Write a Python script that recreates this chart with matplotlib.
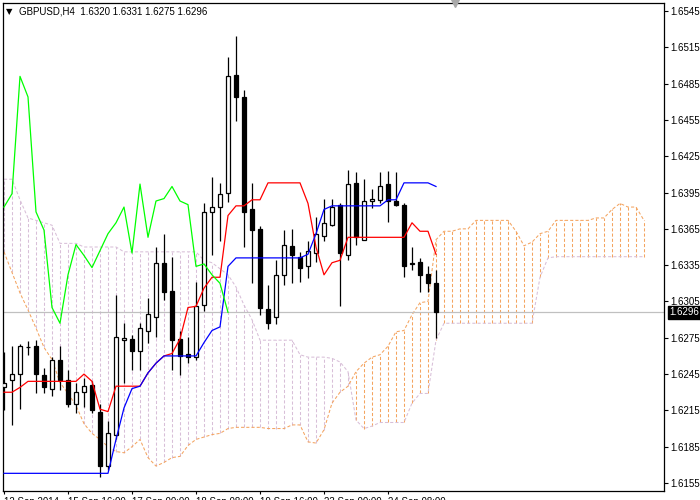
import numpy as np
import matplotlib.pyplot as plt
from matplotlib.transforms import blended_transform_factory

plt.rcParams['font.family'] = ['Liberation Sans', 'DejaVu Sans']

# Velas H4 (abertura, maxima, minima, fechamento)
abert = [1.6234, 1.6240, 1.6245, 1.6267, 1.6268, 1.6244, 1.6233, 1.6257, 1.6240, 1.6220,
         1.6230, 1.6236, 1.6214, 1.6169, 1.6195, 1.6273, 1.6274, 1.6264, 1.6281, 1.6292,
         1.6337, 1.6314, 1.6274, 1.6262, 1.6259, 1.6302, 1.6379, 1.6383, 1.6395, 1.6492,
         1.6474, 1.6381, 1.6365, 1.6299, 1.6292, 1.6327, 1.6351, 1.6342, 1.6334, 1.6345,
         1.6359, 1.6368, 1.6385, 1.6343, 1.6403, 1.6356, 1.6388, 1.6389, 1.6402, 1.6388,
         1.6385, 1.6337, 1.6338, 1.6328, 1.6320]
maxi = [1.6263, 1.6268, 1.6270, 1.6272, 1.6273, 1.6250, 1.6259, 1.6268, 1.6248, 1.6238,
        1.6242, 1.6239, 1.6220, 1.6206, 1.6310, 1.6287, 1.6277, 1.6287, 1.6308, 1.6350,
        1.6361, 1.6342, 1.6281, 1.6276, 1.6321, 1.6386, 1.6408, 1.6403, 1.6507, 1.6524,
        1.6480, 1.6403, 1.6367, 1.6319, 1.6339, 1.6364, 1.6365, 1.6346, 1.6355, 1.6375,
        1.6390, 1.6390, 1.6386, 1.6414, 1.6412, 1.6406, 1.6398, 1.6412, 1.6413, 1.6412,
        1.6386, 1.6350, 1.6341, 1.6334, 1.6331]
mini = [1.6215, 1.6203, 1.6216, 1.6261, 1.6229, 1.6229, 1.6227, 1.6232, 1.6218, 1.6213,
        1.6218, 1.6213, 1.6160, 1.6166, 1.6191, 1.6238, 1.6248, 1.6248, 1.6271, 1.6276,
        1.6306, 1.6248, 1.6244, 1.6254, 1.6257, 1.6297, 1.6343, 1.6355, 1.6387, 1.6454,
        1.6350, 1.6320, 1.6294, 1.6282, 1.6286, 1.6319, 1.6320, 1.6321, 1.6324, 1.6338,
        1.6355, 1.6367, 1.6301, 1.6339, 1.6352, 1.6356, 1.6382, 1.6386, 1.6371, 1.6384,
        1.6325, 1.6331, 1.6313, 1.6313, 1.6275]
fech = [1.6238, 1.6245, 1.6268, 1.6267, 1.6245, 1.6234, 1.6257, 1.6240, 1.6220, 1.6230,
        1.6235, 1.6215, 1.6169, 1.6196, 1.6276, 1.6275, 1.6264, 1.6283, 1.6295, 1.6337,
        1.6313, 1.6273, 1.6260, 1.6259, 1.6301, 1.6379, 1.6383, 1.6394, 1.6491, 1.6474,
        1.6379, 1.6364, 1.6300, 1.6287, 1.6327, 1.6352, 1.6343, 1.6333, 1.6347, 1.6361,
        1.6370, 1.6383, 1.6345, 1.6402, 1.6358, 1.6388, 1.6390, 1.6400, 1.6388, 1.6385,
        1.6334, 1.6336, 1.6327, 1.6320, 1.6296]

# Ichimoku: Tenkan-sen e Kijun-sen
tenkan = [1.6230, 1.6230, 1.6234, 1.6239, 1.6239, 1.6239, 1.6239, 1.6239, 1.6239, 1.6239,
          1.6245, 1.6239, 1.6216, 1.6214, 1.6235, 1.6235, 1.6235, 1.6235, 1.6246, 1.6254,
          1.6260, 1.6262, 1.6274, 1.6300, 1.6301, 1.6316, 1.6325, 1.6325, 1.6376, 1.6384,
          1.6384, 1.6389, 1.6389, 1.6403, 1.6403, 1.6403, 1.6403, 1.6403, 1.6386, 1.6350,
          1.6327, 1.6337, 1.6339, 1.6358, 1.6358, 1.6358, 1.6358, 1.6358, 1.6358, 1.6358,
          1.6358, 1.6370, 1.6363, 1.6363, 1.6344]
kijun = [1.6163, 1.6163, 1.6163, 1.6163, 1.6163, 1.6163, 1.6163, 1.6163, 1.6163, 1.6163,
         1.6163, 1.6163, 1.6163, 1.6163, 1.6191, 1.6217, 1.6233, 1.6235, 1.6246, 1.6254,
         1.6260, 1.6260, 1.6260, 1.6260, 1.6260, 1.6271, 1.6281, 1.6284, 1.6334, 1.6341,
         1.6341, 1.6341, 1.6341, 1.6341, 1.6341, 1.6341, 1.6341, 1.6341, 1.6344, 1.6361,
         1.6381, 1.6384, 1.6384, 1.6384, 1.6384, 1.6384, 1.6384, 1.6384, 1.6389, 1.6389,
         1.6403, 1.6403, 1.6403, 1.6403, 1.6400]

# Nuvem (Senkou Span A e B, deslocadas 26 barras)
span_a = [1.6346, 1.6329, 1.6312, 1.6298, 1.6283, 1.6267, 1.6257, 1.6238, 1.6229, 1.6219,
          1.6204, 1.6196, 1.6191, 1.6185, 1.6181, 1.6180, 1.6185, 1.6191, 1.6176, 1.6169,
          1.6172, 1.6176, 1.6177, 1.6186, 1.6191, 1.6193, 1.6195, 1.6196, 1.6200, 1.6201,
          1.6201, 1.6201, 1.6201, 1.6200, 1.6200, 1.6200, 1.6203, 1.6203, 1.6189, 1.6188,
          1.6199, 1.6221, 1.6230, 1.6235, 1.6247, 1.6254, 1.6259, 1.6261, 1.6268, 1.6280,
          1.6281, 1.6294, 1.6304, 1.6305, 1.6356, 1.6363, 1.6363, 1.6365, 1.6365, 1.6372,
          1.6372, 1.6372, 1.6372, 1.6372, 1.6363, 1.6351, 1.6354, 1.6361, 1.6363, 1.6372,
          1.6372, 1.6372, 1.6372, 1.6372, 1.6374, 1.6374, 1.6381, 1.6386, 1.6383, 1.6383,
          1.6372]
span_b = [1.6406, 1.6406, 1.6389, 1.6374, 1.6372, 1.6370, 1.6368, 1.6353, 1.6353, 1.6353,
          1.6350, 1.6350, 1.6350, 1.6350, 1.6350, 1.6346, 1.6346, 1.6346, 1.6346, 1.6346,
          1.6346, 1.6346, 1.6346, 1.6346, 1.6346, 1.6339, 1.6337, 1.6332, 1.6327, 1.6317,
          1.6302, 1.6290, 1.6273, 1.6273, 1.6273, 1.6273, 1.6273, 1.6261, 1.6259, 1.6259,
          1.6259, 1.6258, 1.6255, 1.6247, 1.6207, 1.6200, 1.6202, 1.6205, 1.6205, 1.6205,
          1.6205, 1.6221, 1.6229, 1.6229, 1.6273, 1.6287, 1.6287, 1.6287, 1.6287, 1.6287,
          1.6287, 1.6287, 1.6287, 1.6287, 1.6287, 1.6287, 1.6287, 1.6325, 1.6341, 1.6342,
          1.6342, 1.6342, 1.6342, 1.6342, 1.6342, 1.6342, 1.6342, 1.6342, 1.6342, 1.6342,
          1.6342]

pos_datas = [0, 8, 16, 24, 32, 40, 48]
rotulos_datas = ['12 Sep 2014', '15 Sep 16:00', '17 Sep 00:00', '18 Sep 08:00',
                 '19 Sep 16:00', '23 Sep 00:00', '24 Sep 08:00']
niveis = [1.6155, 1.6185, 1.6215, 1.6245, 1.6275, 1.6305, 1.6335, 1.6365,
          1.6395, 1.6425, 1.6455, 1.6485, 1.6515, 1.6545]

laranja = '#F4A460'
cardo = '#D8BFD8'
tracejado = (0, (3, 2))

fig = plt.figure(figsize=(7, 5), dpi=100)
ax = fig.add_axes([3 / 700, 9 / 500, 661 / 700, 488 / 500])

n = len(fech)
x = np.arange(n)
xn = np.arange(len(span_a))

# Nuvem: linhas verticais entre as spans
for i in xn:
    a, b = span_a[i], span_b[i]
    cor = laranja if a >= b else cardo
    ax.vlines(i, min(a, b), max(a, b), colors=cor, linestyles=tracejado, lw=0.75, zorder=1)
ax.plot(xn, span_b, color=cardo, ls=tracejado, lw=0.75, zorder=1)
ax.plot(xn, span_a, color=laranja, ls=tracejado, lw=0.75, zorder=1)

# Linha do preco atual
ax.axhline(fech[-1], color='#C0C0C0', lw=0.9, zorder=2)

# Candles
ax.vlines(x, mini, maxi, colors='black', lw=0.9, zorder=3)
for i in x:
    o, c = abert[i], fech[i]
    cor = 'white' if c >= o else 'black'
    ax.bar(i, max(abs(c - o), 0.00001), bottom=min(o, c), width=0.55,
           color=cor, edgecolor='black', lw=0.9, zorder=4)

# Tenkan, Kijun e Chikou (fechamento deslocado 26 barras para tras)
ax.plot(x, tenkan, color='red', lw=0.9, zorder=5)
ax.plot(x, kijun, color='blue', lw=0.9, zorder=5)
ax.plot(x[:n - 26], fech[26:], color='#00FF00', lw=0.9, zorder=5)

ax.set_xlim(-0.125, 82.5)
ax.set_ylim(1.61484, 1.65516)

ax.yaxis.tick_right()
ax.set_yticks(niveis)
ax.set_yticklabels([f'{v:.4f}' for v in niveis])
ax.tick_params(axis='y', length=3, width=0.8, pad=1.5, labelsize=7)
ax.set_xticks(pos_datas)
ax.set_xticklabels(rotulos_datas, ha='left')
ax.tick_params(axis='x', length=2.2, width=0.8, pad=1.8, labelsize=7)
for s in ax.spines.values():
    s.set_linewidth(0.9)
    s.set_color('black')

# Etiqueta do preco atual
trans = blended_transform_factory(ax.transAxes, ax.transData)
ax.annotate(f'{fech[-1]:.4f}', xy=(1, fech[-1]), xycoords=trans, xytext=(4, 0),
            textcoords='offset points', ha='left', va='center', color='white', fontsize=7,
            bbox=dict(boxstyle='square,pad=0.15', facecolor='black', edgecolor='black'))

# Marcador de deslocamento no topo
trans2 = blended_transform_factory(ax.transData, ax.transAxes)
ax.plot(56.4, 1.0, marker='v', ms=6, color='#A9A9A9', transform=trans2, clip_on=False, zorder=6)

# Cabecalho
fig.text(6 / 700, 1 - 12 / 500, '▼', fontsize=6, va='center', family='DejaVu Sans')
fig.text(19 / 700, 1 - 12 / 500,
         f'GBPUSD,H4  {abert[-1]:.4f} {maxi[-1]:.4f} {mini[-1]:.4f} {fech[-1]:.4f}',
         fontsize=7, va='center')

plt.savefig('out.png', dpi=100)
